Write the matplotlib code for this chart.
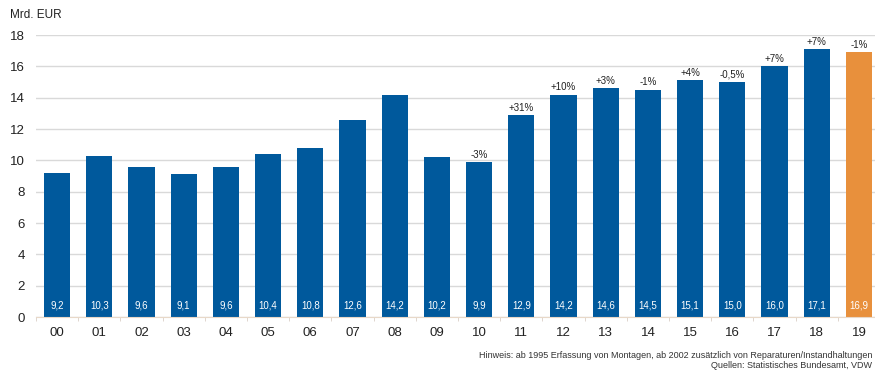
import matplotlib
matplotlib.use("Agg")
import matplotlib.pyplot as plt

years = ["00", "01", "02", "03", "04", "05", "06", "07", "08", "09",
         "10", "11", "12", "13", "14", "15", "16", "17", "18", "19"]
values = [9.2, 10.3, 9.6, 9.1, 9.6, 10.4, 10.8, 12.6, 14.2, 10.2,
          9.9, 12.9, 14.2, 14.6, 14.5, 15.1, 15.0, 16.0, 17.1, 16.9]
changes = ["", "", "", "", "", "", "", "", "", "",
           "-3%", "+31%", "+10%", "+3%", "-1%", "+4%", "-0,5%", "+7%", "+7%", "-1%"]
value_labels = ["9,2", "10,3", "9,6", "9,1", "9,6", "10,4", "10,8", "12,6", "14,2", "10,2",
                "9,9", "12,9", "14,2", "14,6", "14,5", "15,1", "15,0", "16,0", "17,1", "16,9"]
yticks = [0, 2, 4, 6, 8, 10, 12, 14, 16, 18]

blue = "#00599C"
orange = "#E8903C"
colors = [blue] * 19 + [orange]

plt.rcParams['font.family'] = ['Liberation Sans', 'DejaVu Sans']

fig = plt.figure(figsize=(8.75, 3.74), dpi=100)
ax = fig.add_axes([36 / 875, 57 / 374, 844 / 875, 282 / 374])

x = list(range(len(years)))
ax.bar(x, values, width=0.62, color=colors, zorder=3)

for xi, v, lab, ch in zip(x, values, value_labels, changes):
    ax.text(xi, 0.75, lab, ha="center", va="center", color="white", fontsize=7, zorder=4)
    if ch:
        ax.text(xi, v + 0.15, ch, ha="center", va="bottom", color="#222222", fontsize=7, zorder=4)

ax.set_xlim(-0.5, 19.5)
ax.set_ylim(0, 18)
ax.set_yticks(yticks)
ax.set_xticks(x)
ax.set_xticklabels(years, fontsize=9.5, color="#222222")
ax.tick_params(axis="y", length=0, labelsize=9.5, colors="#222222", pad=8)
ax.set_xticks([i + 0.5 for i in range(-1, 20)], minor=True)
ax.tick_params(axis="x", which="minor", length=3, color="#D9CFC6")
ax.tick_params(axis="x", which="major", length=0, pad=7)
ax.grid(axis="y", color="#D9D9D9", linewidth=1, zorder=0)
for s in ["top", "right", "left"]:
    ax.spines[s].set_visible(False)
ax.spines["bottom"].set_color("#E8D8C8")
ax.spines["bottom"].set_zorder(5)

fig.text(10 / 875, 1 - 15 / 374, "Mrd. EUR", fontsize=8.5, color="#222222", va="center", ha="left")
fig.text(872 / 875, 1 - 355 / 374,
         "Hinweis: ab 1995 Erfassung von Montagen, ab 2002 zusätzlich von Reparaturen/Instandhaltungen",
         fontsize=6.5, color="#333333", ha="right", va="center")
fig.text(872 / 875, 1 - 366 / 374, "Quellen: Statistisches Bundesamt, VDW",
         fontsize=6.5, color="#333333", ha="right", va="center")

fig.savefig("out.png", dpi=100)
